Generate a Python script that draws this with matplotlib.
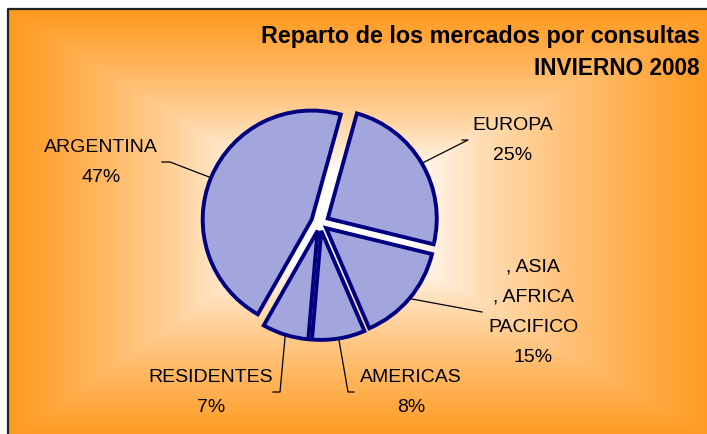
import numpy as np
import matplotlib.pyplot as plt
from matplotlib.patches import Wedge

plt.rcParams['font.family'] = ['Liberation Sans', 'DejaVu Sans']
plt.rcParams['hatch.linewidth'] = 0.5

# data (clockwise from the top)
mercados = ["EUROPA", ", ASIA\n, AFRICA\nPACIFICO", "AMERICAS", "RESIDENTES", "ARGENTINA"]
valores = [25, 15, 8, 7, 47]
explode = [9, 8, 8, 8, 9]  # in pixels

W, H = 707, 434
fig = plt.figure(figsize=(W / 100, H / 100), dpi=100)
ax = fig.add_axes([0, 0, 1, 1])

# background: rectangular "from center" gradient, orange -> white
yy, xx = np.mgrid[0:H, 0:W] + 0.5
cx, cy = 330, 215
dx = np.where(xx < cx, (cx - xx) / 322, (xx - cx) / 385)
dy = np.where(yy < cy, (cy - yy) / 205, (yy - cy) / 225)
t = np.maximum(dx, dy)
s = np.clip((t - 0.22) / 0.78, 0, 1) ** 0.75
orange = np.array([255, 153, 30]) / 255
img = (1 - s)[..., None] * np.ones(3) + s[..., None] * orange
img[(xx < 8) | (yy < 10)] = 1
ax.imshow(img, extent=(0, W, 0, H), origin='upper', zorder=0, interpolation='bilinear')
ax.plot([8, 8, W], [0, H - 9, H - 9], color='#222222', lw=1.6, zorder=1)

# pie
wedges, _ = ax.pie(valores, startangle=74.5, counterclock=False,
                   center=(320, H - 223), radius=109, explode=explode,
                   wedgeprops=dict(facecolor='#666cba', edgecolor='none', linewidth=0))
for w in wedges:
    w.set_zorder(2)
    hatch = Wedge(w.center, w.r, w.theta1, w.theta2, facecolor='none',
                  edgecolor='#a2a6dc', linewidth=0, hatch='+' * 24, zorder=3)
    ax.add_patch(hatch)
    edge = Wedge(w.center, w.r, w.theta1, w.theta2, facecolor='none',
                 edgecolor='#000080', linewidth=2.8, joinstyle='miter', zorder=4)
    ax.add_patch(edge)

# labels: text centre x, first baseline (px from top), elbow and end of leader
text_x = [513, 533, 411, 211, 101]
text_y0 = [130, 272, 382, 382, 152]
elbow = [(468, 140), (482, 312), (348, 392), (280, 392), (170, 162)]
tail = [(462, 140), (482, 312), (354, 392), (273, 392), (162, 162)]

for w, lab, v, tx, ty, el, tl in zip(wedges, mercados, valores, text_x, text_y0, elbow, tail):
    lines = lab.split("\n") + [f"{v}%"]
    for i, line in enumerate(lines):
        ax.text(tx, H - (ty + 30 * i), line, ha='center', va='baseline',
                fontsize=14, color='black', zorder=5)
    ang = np.deg2rad((w.theta1 + w.theta2) / 2)
    px = w.center[0] + w.r * np.cos(ang)
    py = w.center[1] + w.r * np.sin(ang)
    ax.plot([px, el[0], tl[0]], [py, H - el[1], H - tl[1]], color='black', lw=0.9, zorder=1.5)

fig.text(700 / W, 1 - 43 / H, "Reparto de los mercados por consultas", ha='right',
         va='baseline', fontsize=16.8, fontweight='bold')
fig.text(700 / W, 1 - 75 / H, "INVIERNO 2008", ha='right', va='baseline',
         fontsize=16.3, fontweight='bold')

ax.set_xlim(0, W)
ax.set_ylim(0, H)
ax.set_aspect('equal')
ax.axis('off')
fig.savefig('out.png', dpi=100)
